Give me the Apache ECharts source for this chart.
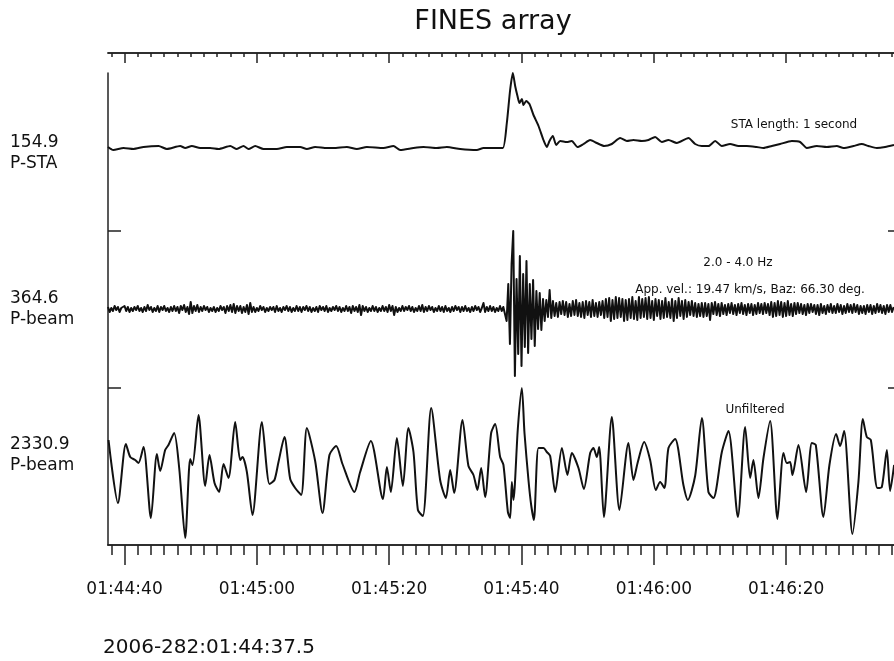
<!DOCTYPE html>
<html>
<head>
<meta charset="utf-8">
<script src="https://cdn.jsdelivr.net/npm/echarts@6/dist/echarts.min.js"></script>
<style>
html, body { margin: 0; padding: 0; background: #fff; }
#chart { width: 894px; height: 661px; }
</style>
</head>
<body>
<div id="chart"></div>
<script>
const timeStart = 37.5, timeEnd = 156.3;
const majorTicks = [40, 60, 80, 100, 120, 140];
const tickLabels = ['01:44:40', '01:45:00', '01:45:20', '01:45:40', '01:46:00', '01:46:20'];
const startLabel = '2006-282:01:44:37.5';
const traceScales = ['154.9', '364.6', '2330.9'];
const traceNames = ['P-STA', 'P-beam', 'P-beam'];
const notes = ['STA length: 1 second', '2.0 - 4.0 Hz', 'App. vel.: 19.47 km/s, Baz: 66.30 deg.', 'Unfiltered'];

// STA trace, [time, value]
const staTrace = [
  [37.5,1],[38.3,-2],[39.85,0],[41.36,-1],[42.87,1],[45.14,2],[46.4,-1],[48.41,2],[49.17,0],[50.17,2],
  [51.43,0],[52.94,0],[54.2,-1],[55.97,2],[56.97,-1],[57.98,2],[58.74,-1],[59.75,2],[61.0,-1],[63.02,-1],
  [64.53,1],[66.55,1],[67.55,-1],[68.81,1],[70.58,0],[71.58,0],[73.6,1],[75.11,-1],[76.62,1],[79.14,0],
  [80.65,2],[81.66,-2],[83.67,0],[85.19,1],[87.2,0],[88.71,1],[90.73,-1],[93.25,-2],[94.25,0],[95.77,0],
  [97.18,0],[97.78,25],[98.28,58],[98.69,75],[99.04,62],[99.39,52],[99.69,45],[100.05,49],[100.3,43],[100.7,47],
  [101.2,44],[101.81,33],[102.57,22],[103.32,8],[103.83,1],[104.23,7],[104.73,12],[105.24,3],[105.84,7],[106.85,6],
  [107.6,7],[108.46,1],[109.37,4],[110.37,8],[111.38,5],[112.49,2],[113.65,4],[114.91,10],[115.92,7],[116.92,8],
  [118.18,7],[119.19,8],[120.2,11],[121.21,6],[122.21,8],[123.47,5],[125.24,10],[126.24,4],[127.25,2],[128.26,2],
  [129.27,7],[130.27,2],[131.53,4],[132.79,2],[134.05,2],[135.56,1],[136.57,0],[137.83,2],[139.09,4],[140.85,7],
  [142.11,6],[143.12,0],[144.63,2],[146.14,1],[147.65,2],[148.66,0],[150.17,2],[151.43,4],[152.44,2],[153.7,0],
  [154.96,1],[156.3,3]
];

// 2-4 Hz beam, one sample every 0.25 s from timeStart
const beamStep = 0.25;
const beamValues = [
  2,-3,1,-2,3,-1,2,-3,1,-1,3,-2,2,-3,1,-2,2,-1,3,-2,
  1,-3,2,-2,4,-1,2,-3,1,-2,3,-3,2,-1,3,-2,1,-3,2,-2,
  3,-2,2,-4,3,-1,4,-3,2,-5,7,-4,3,-2,4,-3,2,-2,3,-1,
  2,-3,1,-2,2,-3,1,-2,3,-1,2,-4,3,-2,4,-3,5,-4,3,-2,
  3,-4,2,-3,4,-5,6,-3,2,-3,1,-2,3,-1,2,-3,1,-2,2,-1,
  2,-3,3,-2,1,-3,2,-1,3,-2,2,-3,1,-2,3,-2,2,-3,2,-1,
  3,-2,2,-3,1,-2,2,-3,3,-1,2,-2,3,-3,1,-2,2,-1,3,-2,
  2,-3,1,-2,3,-2,2,-4,3,-2,2,-3,4,-6,3,-2,2,-3,1,-2,
  3,-2,2,-3,1,-2,3,-2,2,-3,4,-2,3,-6,2,-3,1,-2,3,-2,
  2,-1,3,-2,2,-3,1,-2,3,-2,4,-3,2,-2,3,-1,2,-3,1,-2,
  3,-2,2,-3,3,-2,1,-3,2,-2,3,-1,2,-3,2,-2,3,-2,1,-3,
  2,-2,3,-1,2,-3,1,6,-3,2,-2,3,-2,2,-3,1,-2,3,-2,2,
  4,-12,25,-35,45,78,-67,30,-45,53,-57,35,-38,48,-44,25,-30,29,-37,18,
  -20,16,-21,10,-12,9,-8,19,-9,8,-7,6,-8,7,-5,8,-6,7,-8,5,
  -7,8,-6,9,-7,6,-8,7,-9,8,-6,7,-8,9,-7,6,-8,7,-6,8,
  -9,10,-8,11,-12,9,-10,12,-9,11,-8,10,-12,9,-11,10,-9,12,-10,8,
  -11,12,-9,10,-8,11,-10,12,-9,8,-11,10,-7,9,-10,8,-9,11,-8,7,
  -9,10,-12,8,-9,11,-7,8,-10,9,-8,7,-6,8,-7,6,-8,5,-7,6,
  -8,6,-7,5,-11,6,-5,7,-6,5,-7,6,-5,4,-6,5,-4,6,-5,4,
  -6,5,-4,6,-5,4,-6,5,-4,5,-6,4,-5,6,-4,5,-5,6,-4,5,
  -6,7,-8,6,-7,8,-6,7,-8,6,-7,8,-6,5,-7,6,-5,6,-4,5,
  -5,4,-6,5,-4,5,-3,4,-5,4,-6,5,-4,3,-5,4,-3,5,-4,3,
  -4,5,-3,4,-5,3,-4,5,-3,4,-4,5,-3,4,-5,3,-4,3,-5,4,
  -3,4,-5,3,-4,5,-3,4,-4,3,-5,4,-3,4,-3,2
];

// unfiltered beam, turning points [time, value]
const rawTrace = [
  [37.58,26],[39.0,-37],[40.2,22],[40.86,9],[41.61,6],[42.11,3],[42.87,19],[43.98,-52],[44.89,12],[45.39,-5],
  [46.14,16],[46.64,21],[47.5,33],[48.26,-2],[49.17,-72],[49.92,7],[50.27,1],[51.18,51],[52.19,-20],[52.84,11],
  [53.6,-17],[54.3,-26],[54.96,2],[55.71,-12],[56.72,44],[57.48,6],[57.83,9],[58.49,-6],[59.34,-49],[60.76,44],
  [61.91,-18],[62.66,-14],[63.27,4],[64.17,29],[65.04,-13],[65.79,-22],[66.7,-29],[67.56,38],[68.81,5],[69.92,-47],
  [70.97,11],[71.99,20],[72.94,2],[74.75,-26],[75.61,-6],[77.23,25],[79.05,-33],[79.65,-1],[80.25,-26],[81.16,28],
  [82.07,-20],[82.91,38],[83.67,14],[84.34,-44],[85.09,-50],[86.35,58],[87.7,-14],[88.57,-32],[89.22,-4],[89.82,-27],
  [91.08,46],[91.98,0],[92.74,-9],[93.34,-24],[93.9,-2],[94.5,-31],[95.41,33],[96.02,42],[96.77,9],[97.27,1],
  [97.94,-46],[98.28,-52],[98.54,-16],[98.78,-34],[99.45,38],[100.05,78],[100.45,33],[101.05,-14],[101.46,-39],[101.87,-54],
  [102.56,18],[103.32,18],[103.83,14],[104.33,10],[105.09,-26],[106.1,18],[106.94,-9],[107.61,13],[108.61,-2],[109.42,-23],
  [110.38,13],[110.87,18],[111.39,9],[111.74,19],[112.45,-51],[113.65,49],[114.8,-44],[116.16,23],[116.92,-14],[117.58,4],
  [118.54,24],[119.44,6],[120.3,-24],[120.95,-16],[121.6,-22],[122.21,18],[123.22,27],[124.47,-19],[125.14,-34],[126.24,-10],
  [127.26,48],[128.25,-26],[129.01,-32],[130.28,14],[131.28,35],[132.7,-51],[133.8,39],[134.56,-12],[135.05,6],[135.81,-32],
  [136.57,8],[137.58,45],[138.68,-53],[139.59,13],[140.1,3],[140.6,4],[140.95,-9],[141.86,21],[143.02,-26],[143.88,23],
  [144.48,21],[145.63,-51],[146.54,1],[147.55,32],[148.16,20],[148.76,35],[150.02,-68],[150.92,-16],[151.59,47],[152.19,29],
  [152.8,26],[153.8,-22],[154.46,-21],[155.22,16],[155.71,-25],[156.32,1]
];

const beamTrace = beamValues.map((v, i) => [timeStart + i * beamStep, v]);

let minorTicks = [];
for (let t = 38; t <= 156; t += 2) minorTicks.push(t);

const font = '"DejaVu Sans", sans-serif';
const ink = '#111';
const axisInk = '#222';

let hiddenX = (gi) => ({
  type: 'value', gridIndex: gi, min: timeStart, max: timeEnd, show: false
});
let hiddenY = (gi, lo, hi) => ({
  type: 'value', gridIndex: gi, min: lo, max: hi, show: false
});
let trace = (idx, data, width, smooth) => ({
  type: 'line', xAxisIndex: idx, yAxisIndex: idx, data: data,
  showSymbol: false, clip: false, sampling: false, smooth: smooth,
  lineStyle: { color: ink, width: width, join: 'round' }, animation: false
});
let tickAxis = (pos, ticks, len, inside, labels) => ({
  type: 'value', gridIndex: 3, position: pos, offset: pos === 'top' ? 20 : 0,
  min: timeStart, max: timeEnd,
  axisLine: { show: true, onZero: false, lineStyle: { color: axisInk, width: 1.5 } },
  axisTick: { show: true, inside: inside, length: len, customValues: ticks,
              lineStyle: { color: axisInk, width: 1.5 } },
  axisLabel: labels ? {
    show: true, customValues: majorTicks, margin: 36,
    fontFamily: font, fontSize: 17, color: ink,
    formatter: (v) => tickLabels[majorTicks.indexOf(v)]
  } : { show: false },
  splitLine: { show: false }
});

let text = (x, y, str, size, align) => ({
  type: 'text', x: x, y: y,
  style: { text: str, fontFamily: font, fontSize: size, fill: ink,
           align: align, textAlign: align, verticalAlign: 'middle', textVerticalAlign: 'middle' }
});

option = {
  backgroundColor: '#fff',
  animation: false,
  grid: [
    { left: 108, right: 0, top: 73, height: 158 },
    { left: 108, right: 0, top: 231, height: 157 },
    { left: 108, right: 0, top: 388, height: 157 },
    { left: 108, right: 0, top: 73, height: 472 }
  ],
  xAxis: [
    hiddenX(0), hiddenX(1), hiddenX(2),
    tickAxis('top', minorTicks, 4, true, false),
    tickAxis('top', majorTicks, 10, true, false),
    tickAxis('bottom', minorTicks, 10, false, false),
    tickAxis('bottom', majorTicks, 20, false, true)
  ],
  yAxis: [
    hiddenY(0, -83, 75), hiddenY(1, -79, 78), hiddenY(2, -79, 78),
    {
      type: 'value', gridIndex: 3, min: 0, max: 3, position: 'left',
      axisLine: { show: true, onZero: false, lineStyle: { color: axisInk, width: 1.5 } },
      axisTick: { show: true, inside: true, length: 13, customValues: [1, 2],
                  lineStyle: { color: axisInk, width: 1.5 } },
      axisLabel: { show: false }, splitLine: { show: false }
    },
    {
      type: 'value', gridIndex: 3, min: 0, max: 3, position: 'right',
      axisLine: { show: false, onZero: false },
      axisTick: { show: true, inside: true, length: 6, customValues: [1, 2],
                  lineStyle: { color: axisInk, width: 1.5 } },
      axisLabel: { show: false }, splitLine: { show: false }
    }
  ],
  series: [
    trace(0, staTrace, 2, 0.2),
    trace(1, beamTrace, 2, false),
    trace(2, rawTrace, 2, 0.25)
  ],
  graphic: [
    text(493, 22, 'FINES array', 27, 'center'),
    text(10, 143, traceScales[0], 17, 'left'),
    text(10, 164, traceNames[0], 17, 'left'),
    text(10, 299, traceScales[1], 17, 'left'),
    text(10, 320, traceNames[1], 17, 'left'),
    text(10, 445, traceScales[2], 17, 'left'),
    text(10, 466, traceNames[2], 17, 'left'),
    text(794, 125, notes[0], 12, 'center'),
    text(738, 263, notes[1], 12, 'center'),
    text(750, 290, notes[2], 12, 'center'),
    text(755, 410, notes[3], 12, 'center'),
    text(103, 648, startLabel, 20, 'left')
  ]
};

var myChart = echarts.init(document.getElementById('chart'));
myChart.setOption(option);
</script>
</body>
</html>
